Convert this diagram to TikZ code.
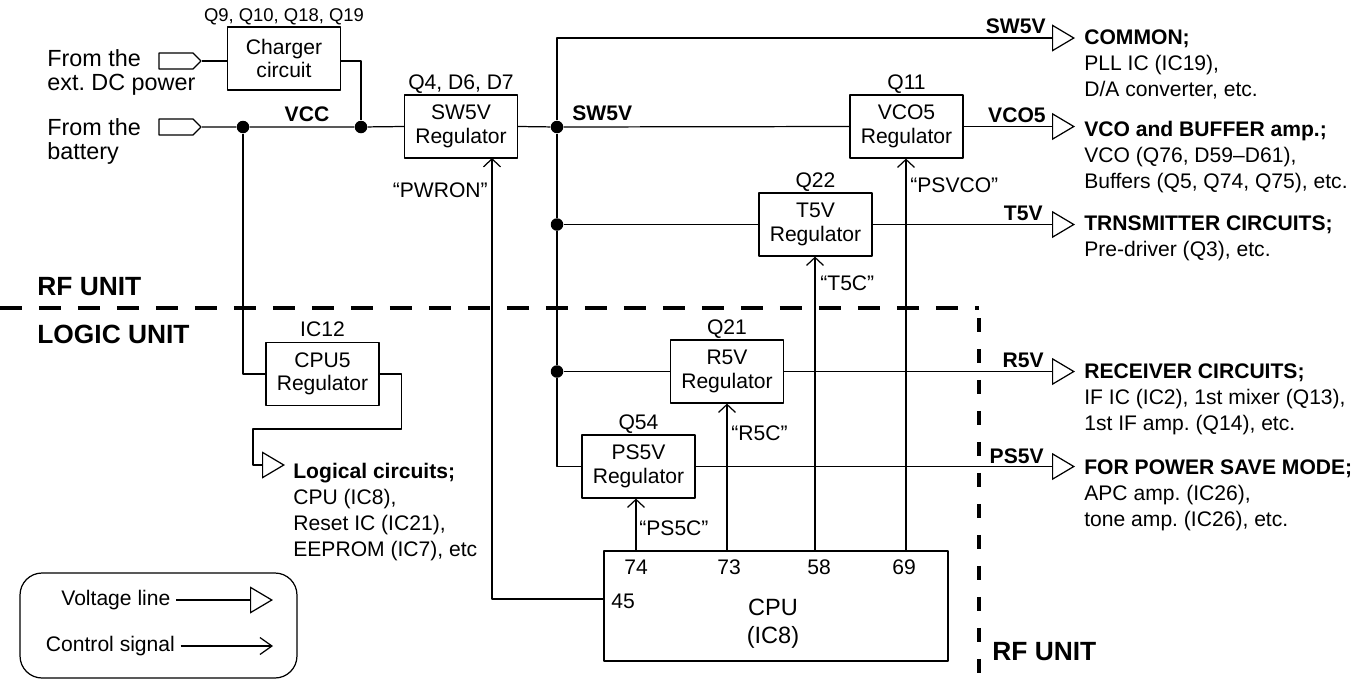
\documentclass[tikz,border=0pt]{standalone}
\usepackage{fontspec}
\setmainfont{Liberation Sans}
\usetikzlibrary{arrows.meta, shapes.symbols}
\frenchspacing

\tikzset{
  regbox/.style={draw, line width=0.7pt, minimum width=2.26cm, minimum height=1.26cm, inner sep=0pt, align=center, font=\fontsize{12}{13.4}\selectfont},
  lbl/.style={inner sep=0pt, font=\fontsize{12}{14}\selectfont},
  blbl/.style={inner sep=0pt, font=\fontsize{12}{14}\selectfont\bfseries},
  unitlbl/.style={inner sep=0pt, font=\fontsize{15}{17}\selectfont\bfseries},
  grouptxt/.style={inner sep=0pt, anchor=north west, align=left, font=\fontsize{12}{14.8}\selectfont},
  fromtxt/.style={inner sep=0pt, anchor=north west, align=left, font=\fontsize{13.3}{14}\selectfont},
  dot/.style={circle, fill=black, inner sep=0pt, minimum size=0.25cm},
  plug/.style={draw, line width=0.7pt, signal, signal to=east, minimum width=0.84cm, minimum height=0.32cm, inner sep=0pt},
  wire/.style={line width=0.7pt},
  vline/.style={line width=0.7pt, -{Triangle[open, length=0.46cm, width=0.54cm]}},
  cline/.style={line width=0.7pt, -{Straight Barb[length=0.16cm, width=0.34cm]}},
  unitline/.style={line width=2pt, dash pattern=on 0.44cm off 0.34cm},
}

\begin{document}
\begin{tikzpicture}[x=0.02cm, y=-0.02cm, line join=round]
\useasboundingbox (0,0) rectangle (1369,684);

\node[regbox] (chg) at (284,58.5) {Charger\\circuit};
\node[regbox] (sw5v) at (461,126.5) {SW5V\\Regulator};
\node[regbox] (vco5) at (906.5,126.5) {VCO5\\Regulator};
\node[regbox] (t5v) at (815.5,224.5) {T5V\\Regulator};
\node[regbox] (cpu5) at (322.5,374) {CPU5\\Regulator};
\node[regbox] (r5v) at (727,371.5) {R5V\\Regulator};
\node[regbox] (ps5v) at (638.5,466.5) {PS5V\\Regulator};
\node[draw, line width=0.7pt, minimum width=6.88cm, minimum height=2.2cm, inner sep=0pt] (cpu) at (776,606) {};
\node[align=center, inner sep=0pt, font=\fontsize{13.4}{16}\selectfont] (cpuname) at (773,624) {CPU\\(IC8)};

\node[plug] (dcin) at (176,61) {};
\node[plug] (batin) at (176,127) {};
\node[dot] (vcca) at (243,127) {};
\node[dot] (vccb) at (361,127) {};
\node[dot] (sw) at (557,127) {};
\node[dot] (swt) at (557,224.5) {};
\node[dot] (swr) at (557,371.5) {};

\coordinate (osw) at (1075,38);
\coordinate (ovco) at (1075,126.5);
\coordinate (ot5) at (1075,224.5);
\coordinate (or5) at (1075,371.5);
\coordinate (ops) at (1075,466.5);
\coordinate (lgcb) at (253,429);
\coordinate (olgc) at (285,465);
\coordinate (pwr) at (492,158);
\coordinate (p45) at (604,599);
\coordinate (p74) at (636,551);
\coordinate (p73) at (727,551);
\coordinate (p58) at (815,551);
\coordinate (p69) at (906,551);

\draw[wire] (dcin.east) -- (dcin.east -| chg.west);
\draw[wire] (chg.east |- dcin.east) -| (vccb);
\draw[wire] (batin.east) -- (vcca) -- (vccb) -- (sw5v.west);
\draw[wire] (sw5v.east) -- (sw);
\draw[vline] (sw) |- (osw);
\draw[wire] (sw) -- (vco5.west);
\draw[vline] (vco5.east) -- (ovco);
\draw[wire] (sw) -- (swt) -- (swr) |- (ps5v.west);
\draw[wire] (swt) -- (t5v.west);
\draw[vline] (t5v.east) -- (ot5);
\draw[wire] (swr) -- (r5v.west);
\draw[vline] (r5v.east) -- (or5);
\draw[vline] (ps5v.east) -- (ops);
\draw[wire] (vcca) |- (cpu5.west);
\draw[vline] (cpu5.east) -- ++(22,0) |- (lgcb) |- (olgc);

\draw[cline] (p45) -| (pwr);
\draw[cline] (p74) -- (p74 |- ps5v.south);
\draw[cline] (p73) -- (p73 |- r5v.south);
\draw[cline] (p58) -- (p58 |- t5v.south);
\draw[cline] (p69) -- (p69 |- vco5.south);

\draw[unitline] (0,308) -- (979,308);
\draw[unitline, dash pattern=on 0.28cm off 0.34cm] (979,318) -- (979,684);

\node[lbl, anchor=base, font=\fontsize{10.5}{12}\selectfont] (chglbl) at ([yshift=0.1cm]chg.north) {Q9, Q10, Q18, Q19};
\node[lbl, anchor=base] (sw5vlbl) at ([yshift=0.1cm]sw5v.north) {Q4, D6, D7};
\node[lbl, anchor=base] (vco5lbl) at ([yshift=0.1cm]vco5.north) {Q11};
\node[lbl, anchor=base] (t5vlbl) at ([yshift=0.1cm]t5v.north) {Q22};
\node[lbl, anchor=base] (r5vlbl) at ([yshift=0.1cm]r5v.north) {Q21};
\node[lbl, anchor=base] (ps5vlbl) at ([yshift=0.1cm]ps5v.north) {Q54};
\node[lbl, anchor=base] (cpu5lbl) at ([yshift=0.1cm]cpu5.north) {IC12};

\node[fromtxt] (dctxt) at (47,49) {From the\\ext. DC power};
\node[fromtxt] (battxt) at (47,118) {From the\\battery};

\node[blbl, anchor=base] (vcctxt) at (307,121) {VCC};
\node[blbl, anchor=base west] (swtxt) at (572,120) {SW5V};
\node[blbl, anchor=base east] (swotxt) at (1046,33) {SW5V};
\node[blbl, anchor=base east] (vcotxt) at (1046,122) {VCO5};
\node[blbl, anchor=base east] (t5txt) at (1043,220) {T5V};
\node[blbl, anchor=base east] (r5txt) at (1044,367) {R5V};
\node[blbl, anchor=base east] (pstxt) at (1044,463) {PS5V};

\node[lbl, anchor=base east] (pwron) at (488,197) {“PWRON”};
\node[lbl, anchor=base west] (psvco) at (910,192) {“PSVCO”};
\node[lbl, anchor=base west] (t5c) at (820,290) {“T5C”};
\node[lbl, anchor=base west] (r5c) at (731,440) {“R5C”};
\node[lbl, anchor=base west] (ps5c) at (639,535) {“PS5C”};

\node[lbl, anchor=base] (pin74) at (636,574) {74};
\node[lbl, anchor=base] (pin73) at (729,574) {73};
\node[lbl, anchor=base] (pin58) at (819,574) {58};
\node[lbl, anchor=base] (pin69) at (904,574) {69};
\node[lbl, anchor=base west] (pin45) at (611,608) {45};

\node[grouptxt] (common) at (1084,29) {\textbf{COMMON;}\\PLL IC (IC19),\\D/A converter, etc.};
\node[grouptxt] (vcobuf) at (1084,121) {\textbf{VCO and BUFFER amp.;}\\VCO (Q76, D59–D61),\\Buffers (Q5, Q74, Q75), etc.};
\node[grouptxt] (trn) at (1084,215) {\textbf{TRNSMITTER CIRCUITS;}\\Pre-driver (Q3), etc.};
\node[grouptxt] (rcv) at (1084,363) {\textbf{RECEIVER CIRCUITS;}\\IF IC (IC2), 1st mixer (Q13),\\1st IF amp. (Q14), etc.};
\node[grouptxt] (psm) at (1084,459) {\textbf{FOR POWER SAVE MODE;}\\APC amp. (IC26),\\tone amp. (IC26), etc.};
\node[grouptxt] (lgc) at (293,463) {\textbf{Logical circuits;}\\CPU (IC8),\\Reset IC (IC21),\\EEPROM (IC7), etc};

\node[unitlbl, anchor=base west] (rfa) at (37,295) {RF UNIT};
\node[unitlbl, anchor=base west] (logic) at (37,343) {LOGIC UNIT};
\node[unitlbl, anchor=base west] (rfb) at (992,660) {RF UNIT};

\node[draw, line width=0.7pt, rounded corners=0.44cm, minimum width=5.54cm, minimum height=2.1cm] (legend) at (158.5,625.5) {};
\node[lbl, anchor=east, inner xsep=3pt] (vltxt) at (176,600) {Voltage line};
\node[lbl, anchor=east, inner xsep=3pt] (cstxt) at (180.5,646) {Control signal};
\coordinate (vltip) at (273,600);
\coordinate (cstip) at (273,646);
\draw[vline] (vltxt.east) -- (vltip);
\draw[line width=0.7pt, -{Straight Barb[length=0.24cm, width=0.34cm]}] (cstxt.east) -- (cstip);
\end{tikzpicture}
\end{document}
